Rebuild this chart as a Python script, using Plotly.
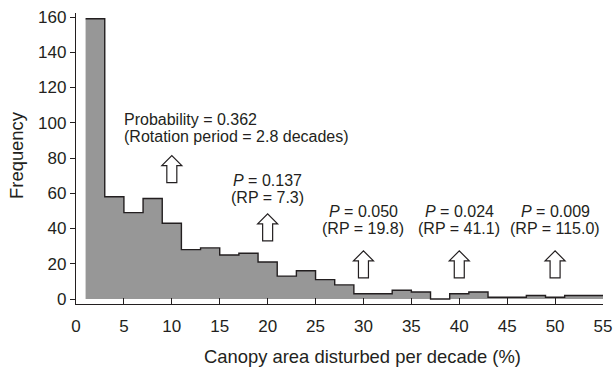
import plotly.graph_objects as go

# Histogram data (bins of width 2 starting at 1 %)
bin_left = [1, 3, 5, 7, 9, 11, 13, 15, 17, 19, 21, 23, 25, 27, 29, 31, 33, 35,
            37, 39, 41, 43, 45, 47, 49, 51, 53]
bin_end = 55
counts = [159, 58, 49, 57, 43, 28, 29, 25, 26, 21, 13, 16, 11, 8, 3, 3, 5, 4,
          0, 3, 4, 1, 1, 2, 1, 2, 2]

# Annotation arrows (x position, y of arrow base)
arrow_x = [10, 20, 30, 40, 50]
arrow_base = [66, 33, 12, 12, 12]
line1 = ["Probability = 0.362", "<i>P</i> = 0.137", "<i>P</i> = 0.050",
         "<i>P</i> = 0.024", "<i>P</i> = 0.009"]
line2 = ["(Rotation period = 2.8 decades)", "(RP = 7.3)", "(RP = 19.8)",
         "(RP = 41.1)", "(RP = 115.0)"]
text_y1 = [101.8, 67.5, 49.5, 49.5, 49.5]
text_y2 = [92.3, 57.8, 39.8, 39.8, 39.8]

x_ticks = list(range(0, 56, 5))
y_ticks = list(range(0, 161, 20))
x_title = "Canopy area disturbed per decade (%)"
y_title = "Frequency"

FONT = "Liberation Sans, Arial, Helvetica, sans-serif"
INK = "#231f20"

xs = bin_left + [bin_end]
ys = counts + [counts[-1]]

fig = go.Figure()
fig.add_trace(go.Scatter(
    x=xs, y=ys, mode="lines", line=dict(shape="hv", color=INK, width=1.4),
    fill="tozeroy", fillcolor="#979797", hoverinfo="skip", showlegend=False))

arrow_path = "M -5,0 L 5,0 L 5,17 L 10,17 L 0,27 L -10,17 L -5,17 Z"
for ax_, ab in zip(arrow_x, arrow_base):
    fig.add_shape(type="path", xref="x", yref="y", xsizemode="pixel",
                  ysizemode="pixel", xanchor=ax_, yanchor=ab, path=arrow_path,
                  line=dict(color=INK, width=1.2), fillcolor="white")

for i, (ax_, t1, t2, y1, y2) in enumerate(zip(arrow_x, line1, line2, text_y1, text_y2)):
    if i == 0:
        fig.add_annotation(x=4.85, y=y1, text=t1, showarrow=False,
                           xanchor="left", yanchor="middle",
                           font=dict(family=FONT, size=16, color=INK))
        fig.add_annotation(x=4.85, y=y2, text=t2, showarrow=False,
                           xanchor="left", yanchor="middle",
                           font=dict(family=FONT, size=16, color=INK))
    else:
        fig.add_annotation(x=ax_, y=y1, text=t1, showarrow=False,
                           xanchor="center", yanchor="middle",
                           font=dict(family=FONT, size=16, color=INK))
        fig.add_annotation(x=ax_, y=y2, text=t2, showarrow=False,
                           xanchor="center", yanchor="middle",
                           font=dict(family=FONT, size=16, color=INK))

# Axis titles as paper-anchored text
fig.add_annotation(xref="paper", yref="paper", x=0.543, y=-0.182, text=x_title,
                   showarrow=False, xanchor="center", yanchor="middle",
                   font=dict(family=FONT, size=18.4, color=INK))
fig.add_annotation(xref="paper", yref="paper", x=-0.114, y=0.512, text=y_title,
                   showarrow=False, xanchor="center", yanchor="middle",
                   textangle=-90, font=dict(family=FONT, size=18.4, color=INK))

fig.update_layout(
    width=615, height=372,
    margin=dict(l=76, r=12, t=13, b=68, autoexpand=False),
    paper_bgcolor="white", plot_bgcolor="white",
    font=dict(family=FONT, color=INK),
    showlegend=False,
)
fig.update_xaxes(
    range=[0, 55], tickvals=x_ticks, ticktext=[str(v) for v in x_ticks],
    ticks="inside", ticklen=6, tickwidth=1.3, tickcolor=INK, automargin=False,
    showline=True, linecolor=INK, linewidth=1.4, showgrid=False, zeroline=False,
    tickfont=dict(family=FONT, size=17, color=INK), ticklabelstandoff=6,
)
fig.update_yaxes(
    range=[-2.84, 162.3], tickvals=y_ticks, ticktext=[str(v) for v in y_ticks],
    ticks="outside", ticklen=5, tickwidth=1.3, tickcolor=INK, automargin=False,
    showline=True, linecolor=INK, linewidth=1.4, showgrid=False, zeroline=False,
    tickfont=dict(family=FONT, size=17, color=INK),
)

fig.write_html("out.html")
